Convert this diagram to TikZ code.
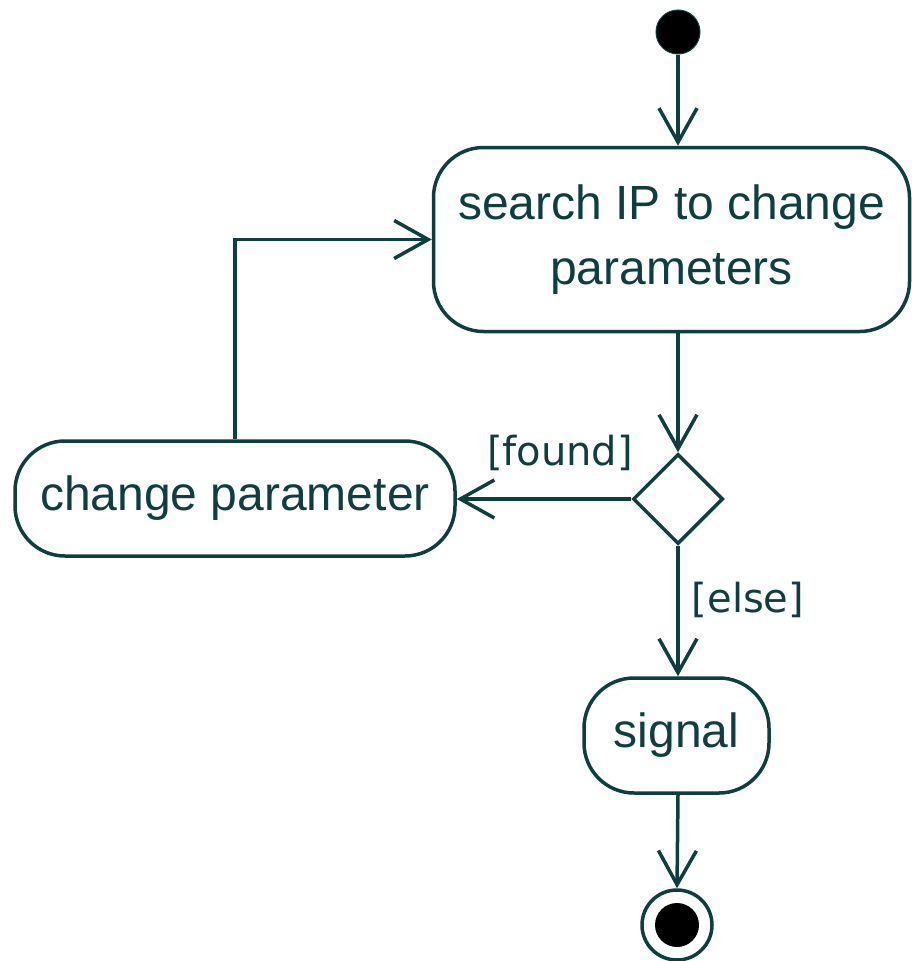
\documentclass[tikz,border=0pt]{standalone}
\usepackage{fontspec}
\setmainfont{Liberation Sans}
\newfontfamily\labelfont{DejaVu Sans}
\usetikzlibrary{arrows.meta,shapes.geometric}
\definecolor{ink}{RGB}{14,62,62}
\tikzset{
  box/.style={draw=ink, line width=3.5pt, rounded corners=50pt, rectangle, inner sep=0pt,
    text=ink, align=center, font=\fontsize{48}{65}\selectfont},
  arr/.style={draw=ink, line width=3.5pt, -{Straight Barb[length=34pt,width=38pt]}},
  guard/.style={text=ink, font=\labelfont\fontsize{40}{48}\selectfont, inner sep=0pt},
}
\begin{document}
\begin{tikzpicture}[x=1pt,y=-1pt]
\useasboundingbox (0,0) rectangle (911,961);
\node[circle, fill=black, draw=ink, line width=1pt, minimum size=44pt, inner sep=0pt] (start) at (678,32) {};
\node[box, minimum width=476pt, minimum height=184pt] (search) at (671.5,239.5) {search IP to change\\parameters};
\node[diamond, draw=ink, line width=3.5pt, minimum width=90pt, minimum height=90pt, inner sep=0pt] (dec) at (678,499) {};
\node[box, minimum width=440pt, minimum height=115pt] (change) at (235,498.5) {change parameter};
\node[box, minimum width=185pt, minimum height=115pt] (signal) at (676.5,735.5) {signal};
\node[circle, draw=ink, line width=3.5pt, minimum size=70pt, inner sep=0pt] (end) at (677,925) {};
\node[circle, fill=black, minimum size=44pt, inner sep=0pt] (endin) at (677,925) {};
\draw[arr] (start) -- (start |- search.north);
\draw[arr] (start |- search.south) -- (dec.north);
\draw[arr] (dec.west) -- (dec.west -| change.east);
\draw[arr] (change.north) |- (search.west);
\draw[arr] (dec.south) -- (dec.south |- signal.north);
\draw[arr] (dec.south |- signal.south) -- (end.north);
\node[guard] (lfound) at (560,453) {[found]};
\node[guard] (lelse) at (748,600) {[else]};
\end{tikzpicture}
\end{document}
